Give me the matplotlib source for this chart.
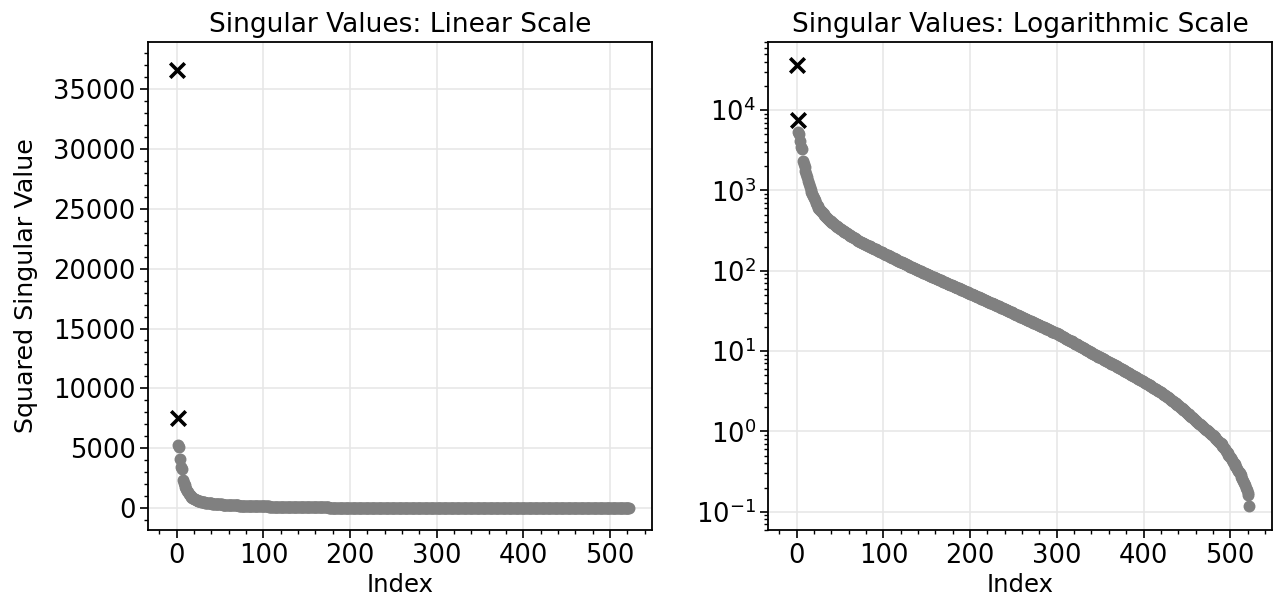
import numpy as np
import matplotlib
matplotlib.use("Agg")
import matplotlib.pyplot as plt
from matplotlib.ticker import AutoMinorLocator

# squared singular values (index 0..522)
singular_values = [
    36600, 7500, 5300, 5100, 4100, 3450, 3250, 2350, 2150, 1950, 1750,
    1590, 1450, 1320, 1200, 1100, 1020, 950, 890, 840, 800,
    750, 700, 660, 635, 610, 590, 570, 550, 535, 520,
    505, 490, 475, 462, 450, 440, 430, 420, 412, 404,
    396, 388, 380, 372, 365, 358, 352, 346, 340, 334,
    328, 322, 316, 310, 305, 300, 295, 291, 286, 282,
    277, 273, 268, 264, 260, 256, 252, 248, 244, 240,
    237, 233, 230, 227, 224, 222, 219, 216, 214, 211,
    209, 206, 204, 201, 199, 196, 194, 191, 189, 187,
    184, 182, 180, 178, 176, 173, 171, 169, 167, 165,
    163, 161, 159, 157, 155, 153, 151, 149, 147, 146,
    144, 142, 140, 139, 137, 135, 134, 132, 130, 129,
    127, 126, 124, 123, 121, 120, 118, 117, 115, 114,
    112, 111, 110, 108.5, 107, 106, 105, 104, 102.5, 101.5,
    100, 99, 98, 97, 96, 94.5, 93.5, 92.5, 91.5, 90.5,
    89.5, 88.5, 87.5, 86.5, 85.5, 84.5, 83.5, 82.5, 81.5, 80.8,
    80.0, 79.1, 78.2, 77.4, 76.5, 75.7, 74.9, 74.0, 73.2, 72.4,
    71.6, 70.8, 70.1, 69.3, 68.5, 67.8, 67.0, 66.3, 65.6, 64.9,
    64.2, 63.5, 62.8, 62.1, 61.4, 60.7, 60.1, 59.4, 58.8, 58.1,
    57.5, 56.9, 56.2, 55.6, 55.0, 54.4, 53.8, 53.2, 52.6, 52.0,
    51.4, 50.9, 50.3, 49.7, 49.2, 48.6, 48.1, 47.6, 47.0, 46.5,
    46.0, 45.5, 45.0, 44.5, 44.0, 43.5, 43.0, 42.5, 42.1, 41.6,
    41.1, 40.7, 40.2, 39.8, 39.3, 38.9, 38.5, 38.0, 37.6, 37.2,
    36.8, 36.4, 36.0, 35.6, 35.2, 34.8, 34.4, 34.0, 33.6, 33.2,
    32.8, 32.4, 32.0, 31.7, 31.3, 30.9, 30.6, 30.2, 29.9, 29.5,
    29.2, 28.9, 28.5, 28.2, 27.9, 27.6, 27.2, 26.9, 26.6, 26.3,
    26.0, 25.7, 25.4, 25.1, 24.8, 24.5, 24.3, 24.0, 23.7, 23.4,
    23.2, 22.9, 22.6, 22.4, 22.1, 21.9, 21.6, 21.4, 21.1, 20.9,
    20.6, 20.4, 20.2, 19.9, 19.7, 19.5, 19.2, 19.0, 18.8, 18.6,
    18.4, 18.2, 17.9, 17.7, 17.5, 17.3, 17.1, 16.9, 16.7, 16.6,
    16.4, 16.1, 15.9, 15.7, 15.5, 15.3, 15.1, 14.9, 14.7, 14.5,
    14.3, 14.1, 13.9, 13.7, 13.5, 13.3, 13.2, 13.0, 12.8, 12.6,
    12.4, 12.3, 12.1, 11.9, 11.75, 11.6, 11.4, 11.3, 11.1, 11.0,
    10.8, 10.7, 10.5, 10.4, 10.2, 10.1, 9.95, 9.81, 9.68, 9.55,
    9.42, 9.29, 9.16, 9.04, 8.91, 8.79, 8.67, 8.55, 8.43, 8.32,
    8.21, 8.10, 7.99, 7.88, 7.78, 7.67, 7.57, 7.47, 7.37, 7.27,
    7.17, 7.08, 6.98, 6.89, 6.80, 6.71, 6.62, 6.53, 6.44, 6.36,
    6.27, 6.19, 6.11, 6.03, 5.96, 5.88, 5.79, 5.71, 5.63, 5.55,
    5.47, 5.39, 5.32, 5.24, 5.17, 5.09, 5.02, 4.95, 4.88, 4.81,
    4.74, 4.68, 4.61, 4.55, 4.48, 4.42, 4.36, 4.29, 4.23, 4.17,
    4.11, 4.04, 3.98, 3.92, 3.86, 3.80, 3.74, 3.68, 3.62, 3.57,
    3.51, 3.46, 3.40, 3.35, 3.30, 3.25, 3.20, 3.15, 3.10, 3.05,
    3.00, 2.96, 2.91, 2.87, 2.82, 2.77, 2.71, 2.66, 2.61, 2.56,
    2.51, 2.46, 2.41, 2.37, 2.32, 2.28, 2.23, 2.19, 2.15, 2.10,
    2.06, 2.02, 1.98, 1.94, 1.90, 1.86, 1.82, 1.78, 1.74, 1.70,
    1.66, 1.63, 1.59, 1.56, 1.52, 1.49, 1.46, 1.42, 1.39, 1.36,
    1.33, 1.30, 1.28, 1.25, 1.22, 1.20, 1.17, 1.15, 1.12, 1.10,
    1.08, 1.05, 1.03, 1.01, 0.99, 0.97, 0.955, 0.93, 0.91, 0.89,
    0.865, 0.845, 0.825, 0.805, 0.785, 0.765, 0.745, 0.725, 0.71, 0.69,
    0.665, 0.64, 0.62, 0.595, 0.575, 0.555, 0.535, 0.515, 0.50, 0.48,
    0.46, 0.44, 0.42, 0.405, 0.39, 0.37, 0.355, 0.34, 0.325, 0.315,
    0.30, 0.285, 0.27, 0.255, 0.24, 0.23, 0.215, 0.20, 0.185, 0.17,
    0.16, 0.118,
]
n_marked = 2  # leading components drawn as black crosses

titles = ["Singular Values: Linear Scale", "Singular Values: Logarithmic Scale"]
x_label = "Index"
y_label = "Squared Singular Value"

values = np.array(singular_values)
index = np.arange(len(values))

fig = plt.figure(figsize=(12.75, 6.09), dpi=100)
ax_lin = fig.add_axes([0.1163, 0.1297, 0.3953, 0.8013])
ax_log = fig.add_axes([0.6026, 0.1297, 0.3953, 0.8013])

for ax, title in zip([ax_lin, ax_log], titles):
    ax.scatter(index[n_marked:], values[n_marked:], s=50, color="gray",
               linewidths=1.5, zorder=3)
    ax.scatter(index[:n_marked], values[:n_marked], s=110, marker="x",
               color="black", linewidths=2.6, zorder=4)
    ax.set_title(title, fontsize=19, pad=7)
    ax.set_xlabel(x_label, fontsize=17.5, labelpad=3)
    ax.set_xlim(-32.8, 548.6)
    ax.xaxis.set_minor_locator(AutoMinorLocator())
    ax.grid(True, which="major", color="#e6e6e6", linewidth=1.1, zorder=0)
    ax.set_axisbelow(True)
    ax.tick_params(which="major", labelsize=18.5, length=5.5, width=1.2)
    ax.tick_params(which="minor", length=3, width=1.0)
    for sp in ax.spines.values():
        sp.set_linewidth(1.3)

ax_lin.set_ylabel(y_label, fontsize=18.3, labelpad=11)
ax_lin.set_ylim(-1810, 38900)
ax_lin.yaxis.set_minor_locator(AutoMinorLocator())

ax_log.set_yscale("log")
ax_log.set_ylim(10 ** -1.228, 10 ** 4.847)

fig.savefig("out.png", dpi=100)
